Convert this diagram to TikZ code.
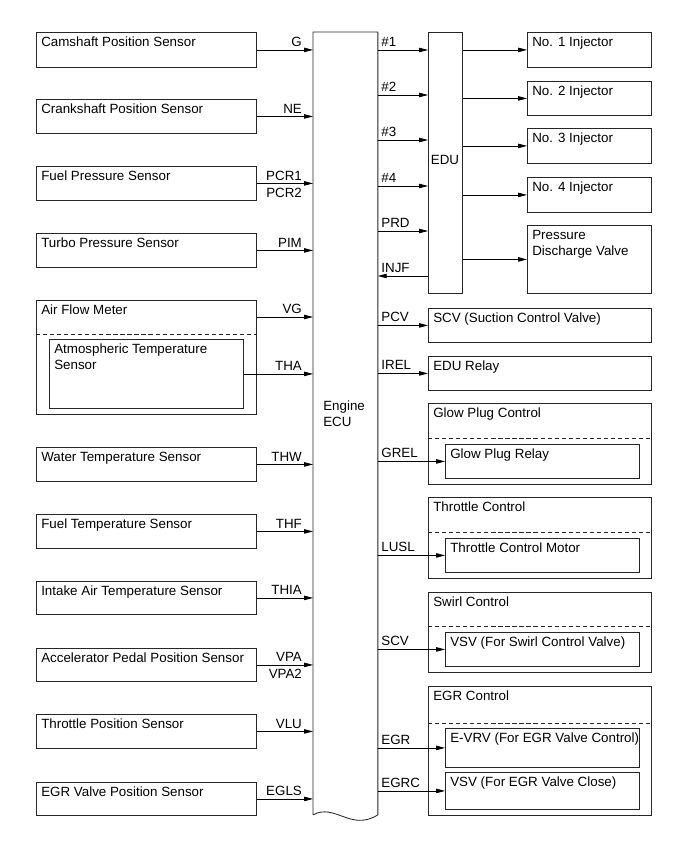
\documentclass[tikz,border=0pt]{standalone}
\usepackage{fontspec}
\setmainfont{Liberation Sans}
\usetikzlibrary{arrows.meta,positioning}

\tikzset{
  px/.style 2 args={minimum width=#1*0.025cm, minimum height=#2*0.025cm},
  box/.style={draw=black!85, line width=0.6pt, anchor=north west, inner sep=0pt},
  lbl/.style={anchor=north west, inner sep=0pt, xshift=0.125cm, yshift=-0.12cm, align=left},
  tag/.style={label={[lbl]north west:#1}},
  sep/.style={draw=black!85, line width=0.6pt, dash pattern=on 3pt off 2pt},
  sig/.style={line width=0.5pt, -{Triangle[length=2.2mm,width=1.1mm]}},
  lpin/.style={anchor=south east, inner sep=0pt, text depth=0pt, xshift=-0.27cm, yshift=0.07cm},
  lpinb/.style={anchor=north east, inner sep=0pt, text depth=0pt, xshift=-0.27cm, yshift=-0.1cm},
  rpin/.style={anchor=south west, inner sep=0pt, text depth=0pt, xshift=0.08cm, yshift=0.08cm},
}

\begin{document}
\begin{tikzpicture}[x=0.025cm, y=-0.025cm, font=\fontsize{9.5}{11.3}\selectfont]
\useasboundingbox (0,0) rectangle (690,853);

% engine ecu
\node[box, draw=none, px={64}{782}] (ecu) at (313,32) {};
\draw[draw=black!85, line width=0.6pt] (ecu.south west) -- (ecu.north west) -- (ecu.north east) -- (ecu.south east)
  .. controls +(-27,17) and +(22,-12) .. (ecu.south west);
\node[anchor=north west, inner sep=0pt, align=left] (ecutxt) at (323,401) {Engine\\ECU};

% sensors
\node[box, px={220}{35}, tag=Camshaft Position Sensor] (cam) at (36,32) {};
\node[box, px={220}{34}, tag=Crankshaft Position Sensor] (crank) at (36,99) {};
\node[box, px={220}{34}, tag=Fuel Pressure Sensor] (fuelp) at (36,166) {};
\node[box, px={220}{34}, tag=Turbo Pressure Sensor] (turbo) at (36,233) {};
\node[box, px={220}{114}, tag=Air Flow Meter] (afm) at (36,300) {};
\draw[sep] (afm.west |- 0,334) -- (afm.east |- 0,334);
\node[box, px={194}{69}, tag={Atmospheric Temperature\\Sensor}] (atm) at (49,339) {};
\node[box, px={220}{34}, tag=Water Temperature Sensor] (water) at (36,447) {};
\node[box, px={220}{34}, tag=Fuel Temperature Sensor] (fuelt) at (36,514) {};
\node[box, px={220}{33}, tag=Intake Air Temperature Sensor] (intake) at (36,581) {};
\node[box, px={220}{33}, tag=Accelerator Pedal Position Sensor] (accel) at (36,648) {};
\node[box, px={220}{34}, tag=Throttle Position Sensor] (tps) at (36,714) {};
\node[box, px={220}{33}, tag=EGR Valve Position Sensor] (egrpos) at (36,782) {};

\draw[sig] (cam.east) -- (cam.east -| ecu.west) node[lpin] (sg) {G};
\draw[sig] (crank.east) -- (crank.east -| ecu.west) node[lpin] (sne) {NE};
\draw[sig] (fuelp.east) -- (fuelp.east -| ecu.west) node[lpin] (spcr) {PCR1};
\node[lpinb] (spcrb) at (fuelp.east -| ecu.west) {PCR2};
\draw[sig] (turbo.east) -- (turbo.east -| ecu.west) node[lpin] (spim) {PIM};
\draw[sig] (afm.east |- 0,317) -- (ecu.west |- 0,317) node[lpin] (svg) {VG};
\draw[sig] (atm.east) -- (atm.east -| ecu.west) node[lpin] (stha) {THA};
\draw[sig] (water.east) -- (water.east -| ecu.west) node[lpin] (sthw) {THW};
\draw[sig] (fuelt.east) -- (fuelt.east -| ecu.west) node[lpin] (sthf) {THF};
\draw[sig] (intake.east) -- (intake.east -| ecu.west) node[lpin] (sthia) {THIA};
\draw[sig] (accel.east) -- (accel.east -| ecu.west) node[lpin] (svpa) {VPA};
\node[lpinb] (svpab) at (accel.east -| ecu.west) {VPA2};
\draw[sig] (tps.east) -- (tps.east -| ecu.west) node[lpin] (svlu) {VLU};
\draw[sig] (egrpos.east) -- (egrpos.east -| ecu.west) node[lpin] (segls) {EGLS};

% edu and injectors
\node[box, px={34}{261}] (edu) at (428,32) {};
\node[inner sep=0pt] (edutxt) at (445,160) {EDU};
\node[box, px={124}{35}, tag=No. 1 Injector] (inj1) at (527,32) {};
\node[box, px={124}{34}, tag=No. 2 Injector] (inj2) at (527,81) {};
\node[box, px={124}{35}, tag=No. 3 Injector] (inj3) at (527,128) {};
\node[box, px={124}{35}, tag=No. 4 Injector] (inj4) at (527,177) {};
\node[box, px={124}{68}, tag={Pressure\\Discharge Valve}] (pdv) at (527,225) {};

\draw[sig] (ecu.east |- 0,50) node[rpin] (s1) {\#1} -- (edu.west |- 0,50);
\draw[sig] (ecu.east |- 0,95) node[rpin] (s2) {\#2} -- (edu.west |- 0,95);
\draw[sig] (ecu.east |- 0,140) node[rpin] (s3) {\#3} -- (edu.west |- 0,140);
\draw[sig] (ecu.east |- 0,186) node[rpin] (s4) {\#4} -- (edu.west |- 0,186);
\draw[sig] (ecu.east |- 0,231) node[rpin] (sprd) {PRD} -- (edu.west |- 0,231);
\draw[sig] (edu.west |- 0,276) -- (ecu.east |- 0,276) node[rpin] (sinjf) {INJF};
\draw[sig] (edu.east |- inj1) -- (inj1.west);
\draw[sig] (edu.east |- inj2) -- (inj2.west);
\draw[sig] (edu.east |- inj3) -- (inj3.west);
\draw[sig] (edu.east |- inj4) -- (inj4.west);
\draw[sig] (edu.east |- pdv) -- (pdv.west);

% actuators
\node[box, px={223}{34}, tag=SCV (Suction Control Valve)] (scv) at (428,308) {};
\node[box, px={223}{34}, tag=EDU Relay] (relay) at (428,356) {};
\draw[sig] (ecu.east |- scv) node[rpin] (spcv) {PCV} -- (scv.west);
\draw[sig] (ecu.east |- relay) node[rpin] (sirel) {IREL} -- (relay.west);

\node[box, px={223}{81}, tag=Glow Plug Control] (glow) at (428,403) {};
\draw[sep] (glow.west |- 0,438) -- (glow.east |- 0,438);
\node[box, px={194}{34}, tag=Glow Plug Relay] (glowr) at (445,444) {};
\draw[sig] (ecu.east |- glowr) node[rpin] (sgrel) {GREL} -- (glowr.west);

\node[box, px={223}{81}, tag=Throttle Control] (thr) at (428,497) {};
\draw[sep] (thr.west |- 0,532) -- (thr.east |- 0,532);
\node[box, px={194}{34}, tag=Throttle Control Motor] (thrm) at (445,538) {};
\draw[sig] (ecu.east |- thrm) node[rpin] (slusl) {LUSL} -- (thrm.west);

\node[box, px={223}{80}, tag=Swirl Control] (swirl) at (428,592) {};
\draw[sep] (swirl.west |- 0,626) -- (swirl.east |- 0,626);
\node[box, px={194}{34}, tag=VSV (For Swirl Control Valve)] (vsvs) at (445,632) {};
\draw[sig] (ecu.east |- vsvs) node[rpin] (sscv) {SCV} -- (vsvs.west);

\node[box, px={223}{129}, tag=EGR Control] (egr) at (428,686) {};
\draw[sep] (egr.west |- 0,723) -- (egr.east |- 0,723);
\node[box, px={194}{39}, tag=E-VRV (For EGR Valve Control)] (evrv) at (445,728) {};
\node[box, px={194}{37}, tag=VSV (For EGR Valve Close)] (vsve) at (445,772) {};
\draw[sig] (ecu.east |- evrv) node[rpin] (segr) {EGR} -- (evrv.west);
\draw[sig] (ecu.east |- vsve) node[rpin] (segrc) {EGRC} -- (vsve.west);

\end{tikzpicture}
\end{document}
